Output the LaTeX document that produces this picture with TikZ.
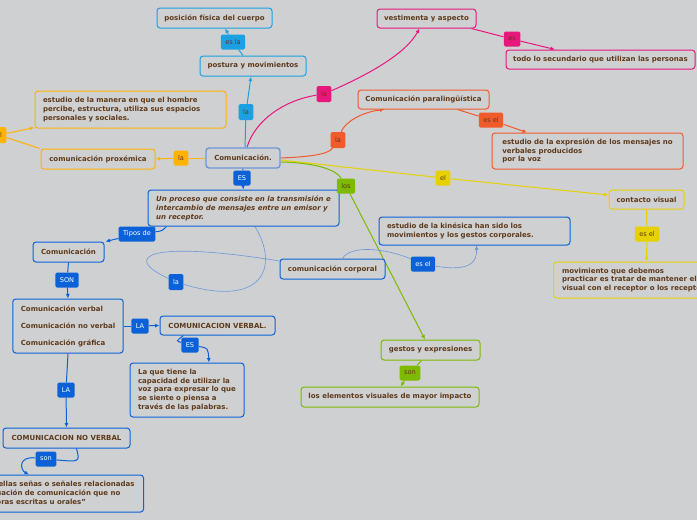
\documentclass[tikz,border=0pt]{standalone}
\usepackage{fontspec}
\setmainfont{DejaVu Sans}
\usetikzlibrary{arrows.meta,backgrounds}
\definecolor{bgc}{HTML}{CFD0D2}
\definecolor{ink}{HTML}{5E3A1A}
\definecolor{cyanc}{HTML}{1BA1E2}
\definecolor{pinkc}{HTML}{E8177C}
\definecolor{orngc}{HTML}{F15A2B}
\definecolor{yelc}{HTML}{E6D200}
\definecolor{grnc}{HTML}{7DBA00}
\definecolor{ambc}{HTML}{FFB300}
\definecolor{bluec}{HTML}{0B62D8}
\definecolor{bluel}{HTML}{6E97DB}

\begin{document}
\begin{tikzpicture}[x=1pt, y=-1pt,
  box/.style={draw=#1, fill=bgc, rounded corners=3pt, line width=1pt, text=ink,
              font=\fontsize{7}{8.7}\selectfont\bfseries, inner sep=0pt,
              minimum height=20pt},
  para/.style={box=#1, align=left, inner xsep=8pt},
  lbl/.style={fill=#1, rounded corners=1.5pt, text=ink, font=\fontsize{6.6}{8}\selectfont,
              minimum height=15pt, inner xsep=4.5pt, inner ysep=0pt},
  blbl/.style={lbl=bluec, text=white},
  ln/.style={draw=#1, line width=1pt},
  thinln/.style={draw=bluel, line width=0.6pt},
  arr/.style={-{Latex[length=4.5pt,width=4pt]}}]
  \useasboundingbox (0,0) rectangle (697,520);

  \node[box=cyanc, minimum width=115pt] (posicion) at (214.5,18) {posición física del cuerpo};
  \node[box=cyanc, minimum width=106pt] (postura) at (253,66) {postura y movimientos};
  \node[box=bluel, line width=1.4pt, minimum width=74pt] (comun) at (243,158) {Comunicación.};
  \node[para=ambc, text width=175pt, minimum height=37pt] (proxdef) at (130.5,109.5)
    {estudio de la manera en que el hombre\\ percibe, estructura, utiliza sus espacios\\ personales y sociales.};
  \node[box=ambc, minimum width=114pt] (proxemica) at (98,159) {comunicación proxémica};
  \node[box=pinkc, minimum width=99pt, minimum height=19pt] (vestim) at (426.5,18.5) {vestimenta y aspecto};
  \node[box=pinkc, minimum width=189pt, minimum height=19pt] (secund) at (600.5,59.5) {todo lo secundario que utilizan las personas};
  \node[box=orngc, minimum width=131pt, minimum height=19pt] (paraling) at (423.5,99.5) {Comunicación paralingüística};
  \node[para=orngc, minimum width=191pt, minimum height=36pt] (expres) at (587.5,151)
    {estudio de la expresión de los mensajes no\\ verbales producidos\\ por la voz};
  \node[box=yelc, minimum width=75pt, minimum height=19pt] (contacto) at (646.5,199.5) {contacto visual};
  \node[para=yelc, anchor=west, inner xsep=8.5pt, minimum height=36pt] (movim) at (553,280)
    {movimiento que debemos\\ practicar es tratar de mantener el contacto\\ visual con el receptor o los receptores};
  \node[box=grnc, minimum width=99pt] (gestos) at (430.5,350) {gestos y expresiones};
  \node[box=grnc, minimum width=178pt] (impacto) at (390,397) {los elementos visuales de mayor impacto};
  \node[para=bluec, minimum width=191pt, minimum height=36pt,
        font=\fontsize{7}{9}\selectfont\bfseries\itshape] (proceso) at (243.5,208)
    {Un proceso que consiste en la transmisión e\\ intercambio de mensajes entre un emisor y\\ un receptor.};
  \node[box=bluec, minimum width=71pt] (comtipos) at (68.5,252) {Comunicación};
  \node[para=bluec, minimum width=110pt, minimum height=54pt,
        font=\fontsize{7}{17}\selectfont\bfseries] (tipos) at (68,326)
    {Comunicación verbal\\ Comunicación no verbal\\ Comunicación gráfica};
  \node[box=bluec, minimum width=115pt, minimum height=19pt] (verbal) at (217.5,325.5) {COMUNICACION VERBAL.};
  \node[para=bluec, minimum width=114pt, minimum height=54pt] (verbdef) at (187,390)
    {La que tiene la\\ capacidad de utilizar la\\ voz para expresar lo que\\ se siente o piensa a\\ través de las palabras.};
  \node[box=bluec, minimum width=127pt] (noverbal) at (66.5,438) {COMUNICACION NO VERBAL};
  \node[para=bluec, anchor=east, inner xsep=9pt, minimum height=37pt] (senas) at (144,493.5)
    {“Aquellas señas o señales relacionadas\\ a situación de comunicación que no\\ palabras escritas u orales”};
  \node[box=bluec, minimum width=105pt] (corporal) at (332.5,269) {comunicación corporal};
  \node[para=bluec, text width=175pt, minimum height=28pt,
        font=\fontsize{7}{9.3}\selectfont\bfseries] (kinesica) at (474.5,231)
    {estudio de la kinésica han sido los\\ movimientos y los gestos corporales.};

  \node[lbl=cyanc] (esla) at (233,42) {es la};
  \node[lbl=cyanc, minimum height=16pt] (lac) at (246,112) {la};
  \node[lbl=pinkc, minimum height=16pt] (lap) at (324,94) {la};
  \node[lbl=pinkc] (esp) at (512,39) {es};
  \node[lbl=orngc, minimum height=16pt] (lao) at (338,140) {la};
  \node[lbl=orngc] (eselo) at (491,120) {es el};
  \node[lbl=yelc] (ely) at (443,178) {el};
  \node[lbl=yelc] (esely) at (647,234) {es el};
  \node[lbl=grnc] (losg) at (346,186) {los};
  \node[lbl=grnc] (song) at (410,373) {son};
  \node[lbl=ambc] (laa) at (181,158) {la};
  \node[lbl=ambc, minimum height=16pt] (ela) at (-1,135) {el};
  \node[blbl] (esb) at (242,178) {ES};
  \node[blbl] (tiposde) at (137,234) {Tipos de};
  \node[blbl] (sonb) at (67,280) {SON};
  \node[blbl] (lab) at (140,326) {LA};
  \node[blbl] (esv) at (190,345) {ES};
  \node[blbl] (lanv) at (66,390) {LA};
  \node[blbl] (sonnv) at (46,459) {son};
  \node[blbl] (eselb) at (423,264) {es el};
  \node[blbl, minimum height=16pt] (lacorp) at (176,282) {la};

  \begin{scope}[on background layer]
    \fill[bgc] (0,0) rectangle (697,520);
    \draw[ln=cyanc] ([xshift=2pt]comun.north) -- (lac);
    \draw[ln=cyanc, arr] (lac) -- ([xshift=-2pt]postura.south);
    \draw[ln=cyanc] ([xshift=-10pt]postura.north) -- (esla);
    \draw[ln=cyanc, arr] (esla) -- ([xshift=10.5pt]posicion.south);
    \draw[ln=pinkc] ([xshift=4pt]comun.north) .. controls (255,120) and (285,100) .. (lap);
    \draw[ln=pinkc, arr] (lap) .. controls (365,76) and (405,55) .. ([xshift=-7pt]vestim.south);
    \draw[ln=pinkc] ([xshift=-5pt]vestim.south east) -- (esp);
    \draw[ln=pinkc, arr] (esp) -- ([xshift=-45.5pt]secund.north);
    \draw[ln=orngc] (comun.east) .. controls (305,157) and (328,155) .. (lao);
    \draw[ln=orngc, arr] (lao) .. controls (345,122) and (362,112) .. ([xshift=-39pt]paraling.south);
    \draw[ln=orngc] ([xshift=34pt]paraling.south) -- (eselo);
    \draw[ln=orngc, arr] (eselo) -- ([xshift=-60.5pt]expres.north);
    \draw[ln=yelc] ([yshift=-2pt]comun.east) -- (ely);
    \draw[ln=yelc, arr] (ely) -- ([yshift=4.5pt]contacto.west);
    \draw[ln=yelc] (contacto.south) -- (esely);
    \draw[ln=yelc, arr] (esely) -- (contacto.south |- movim.north);
    \draw[ln=grnc] ([yshift=-4pt]comun.east) .. controls (318,163) and (336,170) .. (losg);
    \draw[ln=grnc, arr] (losg) -- ([xshift=-5.5pt]gestos.north);
    \draw[ln=grnc] ([xshift=-9pt]gestos.south) -- (song);
    \draw[ln=grnc, arr] (song) -- ([xshift=10.5pt]impacto.north);
    \draw[ln=ambc] (comun.west) -- (laa);
    \draw[ln=ambc, arr] (laa) -- (proxemica.east);
    \draw[ln=ambc] ([xshift=-1pt]proxemica.north west) -- (ela);
    \draw[ln=ambc, arr] (ela) -- ([yshift=1pt]proxdef.south west);
    \draw[ln=bluec] (comun.south) -- (esb);
    \draw[ln=bluec, arr] (esb) -- (proceso.north);
    \draw[ln=bluec] ([xshift=19pt]proceso.south west) .. controls (162,231) .. (tiposde);
    \draw[ln=bluec, arr] (tiposde) -- ([xshift=1pt]comtipos.north east);
    \draw[ln=bluec] (comtipos.south) -- (sonb);
    \draw[ln=bluec, arr] (sonb) -- (tipos.north);
    \draw[ln=bluec] (tipos.east) -- (lab);
    \draw[ln=bluec, arr] (lab) -- (verbal.west);
    \draw[ln=bluec] ([xshift=-34pt]verbal.south) .. controls (176,341) .. (esv);
    \draw[ln=bluec, arr] (esv) .. controls (208,348) .. ([xshift=22pt]verbdef.north);
    \draw[ln=bluec] (tipos.south) -- (lanv);
    \draw[ln=bluec, arr] (lanv) -- (noverbal.north);
    \draw[ln=bluec] ([xshift=10pt]noverbal.south) .. controls (80,462) .. (sonnv);
    \draw[ln=bluec, arr] (sonnv) .. controls (18,456) and (20,470) .. ([xshift=-115pt]senas.north east);
    \draw[thinln] ([xshift=11.5pt]proceso.south) .. controls (280,268) and (262,308) .. (lacorp);
    \draw[thinln] (lacorp) .. controls (120,256) and (150,240) .. ([yshift=8pt]corporal.west);
    \draw[thinln] ([xshift=10pt]corporal.north) .. controls (350,245) and (385,248) .. (eselb);
    \draw[thinln, arr] (eselb) .. controls (470,272) and (477,262) .. ([xshift=2pt]kinesica.south);
  \end{scope}
\end{tikzpicture}
\end{document}
